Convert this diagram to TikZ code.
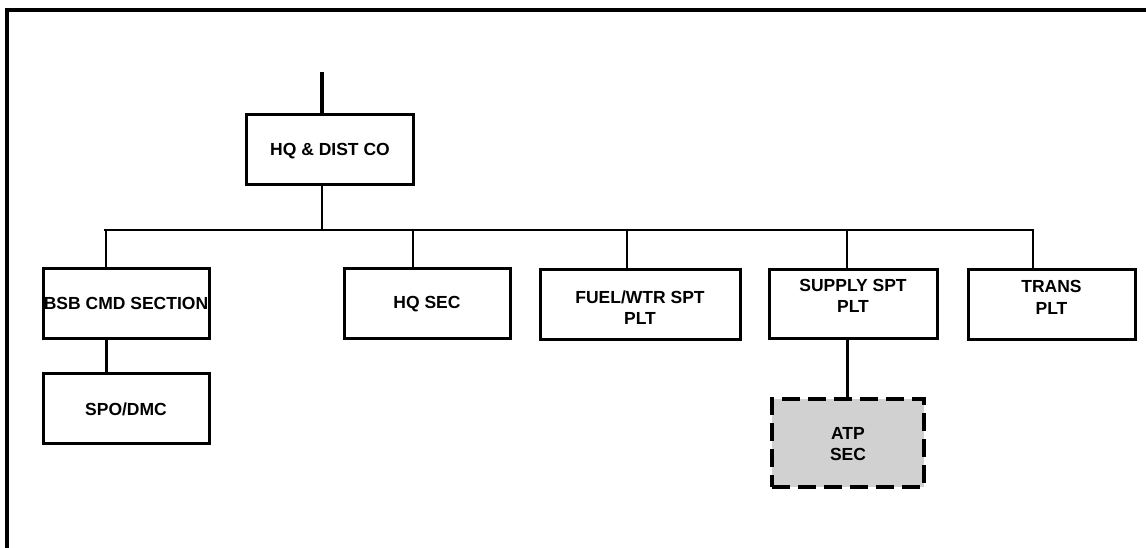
\documentclass[tikz,border=0pt]{standalone}
\usepackage{fontspec}
\setmainfont{Liberation Sans}
\begin{document}
\begin{tikzpicture}[x=1pt,y=-1pt,
  box/.style={draw, line width=3pt, rectangle, inner sep=0pt},
  dbox/.style={draw, line width=3.2pt, rectangle, inner sep=0pt, fill=black!18, dash pattern=on 18pt off 8pt},
  txt/.style={align=center, font=\bfseries\fontsize{17.5}{21.5}\selectfont, inner sep=0pt},
  conn/.style={line width=2.4pt}]
\useasboundingbox (0,0) rectangle (1146,548);
% frame
\draw[line width=3.5pt] (7,560) -- (7,10) -- (1160,10);
% boxes
\node[box, minimum width=167pt, minimum height=70pt] (hq) at (329.5,150) {};
\node[txt] at (330,151) {HQ \& DIST CO};
\node[box, minimum width=166pt, minimum height=70pt] (bsb) at (126,303) {};
\node[txt] at (126,303.5) {BSB CMD SECTION};
\node[box, minimum width=166pt, minimum height=70pt] (spo) at (126,408) {};
\node[txt] at (126,409.5) {SPO/DMC};
\node[box, minimum width=166pt, minimum height=70pt] (hqsec) at (427,303) {};
\node[txt] at (427,304.5) {HQ SEC};
\node[box, minimum width=200pt, minimum height=70pt] (fuel) at (640,304) {};
\node[txt] at (640,307.5) {FUEL/WTR SPT\\PLT};
\node[box, minimum width=168pt, minimum height=69pt] (supply) at (853,303.5) {};
\node[txt] at (853,296) {SUPPLY SPT\\PLT};
\node[box, minimum width=167pt, minimum height=70pt] (trans) at (1051.5,304) {};
\node[txt] at (1051.5,297.5) {TRANS\\PLT};
\node[dbox, minimum width=152pt, minimum height=88pt] (atp) at (848,443) {};
\node[txt] at (848,444) {ATP\\SEC};
% connectors
\coordinate (topend) at (322,72);
\coordinate (busL) at (104,230);
\coordinate (busR) at (1034,230);
\coordinate (xB) at (106,230);
\coordinate (xH) at (413,230);
\coordinate (xF) at (627,230);
\coordinate (xS) at (847,230);
\coordinate (xT) at (1033,230);
\draw[line width=4pt] (topend) -- (topend |- hq.north);
\draw[conn] (topend |- hq.south) -- (topend |- busL);
\draw[conn] (busL) -- (busR);
\draw[conn] (xB) -- (xB |- bsb.north);
\draw[line width=3pt] (xB |- bsb.south) -- (xB |- spo.north);
\draw[conn] (xH) -- (xH |- hqsec.north);
\draw[conn] (xF) -- (xF |- fuel.north);
\draw[conn] (xS) -- (xS |- supply.north);
\draw[conn] (xT) -- (xT |- trans.north);
\draw[line width=3pt] (xS |- supply.south) -- (xS |- atp.north);
\end{tikzpicture}
\end{document}
